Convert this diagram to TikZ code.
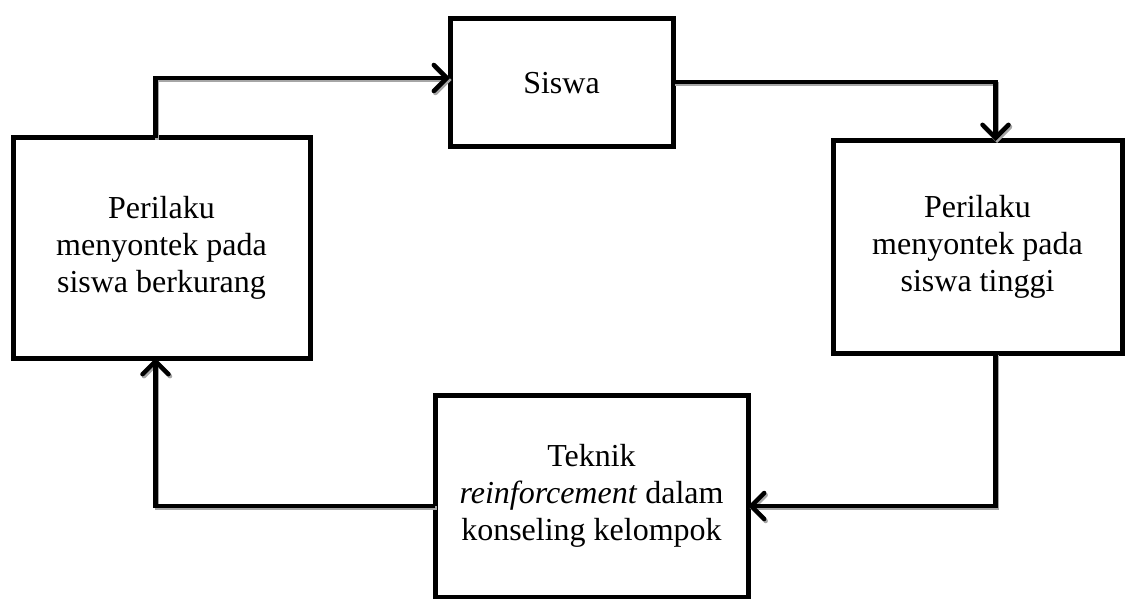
\documentclass[tikz,border=0pt]{standalone}
\usepackage{fontspec}
\setmainfont{Liberation Serif}
\usetikzlibrary{arrows.meta}
\usetikzlibrary{positioning}
\tikzset{kotak/.style = {draw, line width=5pt, inner sep=0pt, outer sep=0pt,
                         align=center, font=\fontsize{32}{37}\selectfont},
         alur/.style = {line width=4.5pt,
                        -{Straight Barb[length=13pt,width=26pt,line cap=round]},
                        preaction={draw=black!35, line width=4.5pt,
                                   transform canvas={shift={(1.5pt,-2pt)}}}}}

\begin{document}
\begin{tikzpicture}[x=1pt, y=-1pt]
      \useasboundingbox (0, 0) rectangle (1125, 599);

      \node [kotak, minimum width=223pt, minimum height=128pt] (siswa) at (561.5, 83) {Siswa};
      \node [kotak, minimum width=297pt, minimum height=220pt] (kiri) at (161.5, 248)
            {Perilaku\\ menyontek pada\\ siswa berkurang};
      \node [kotak, minimum width=289pt, minimum height=212pt] (kanan) at (977.5, 247)
            {Perilaku\\ menyontek pada\\ siswa tinggi};
      \node [kotak, minimum width=313pt, minimum height=202pt] (teknik) at (591.5, 496)
            {Teknik\\ \textit{reinforcement} dalam\\ konseling kelompok};

      \draw [alur] ([xshift=-6pt]kiri.north) |- ([yshift=5pt]siswa.west);
      \draw [alur] ([yshift=1pt]siswa.east) -| ([xshift=18pt]kanan.north);
      \draw [alur] ([xshift=18pt]kanan.south) |- ([yshift=-10pt]teknik.east);
      \draw [alur] ([yshift=-10pt]teknik.west) -| ([xshift=-6pt]kiri.south);
    \end{tikzpicture}
\end{document}
